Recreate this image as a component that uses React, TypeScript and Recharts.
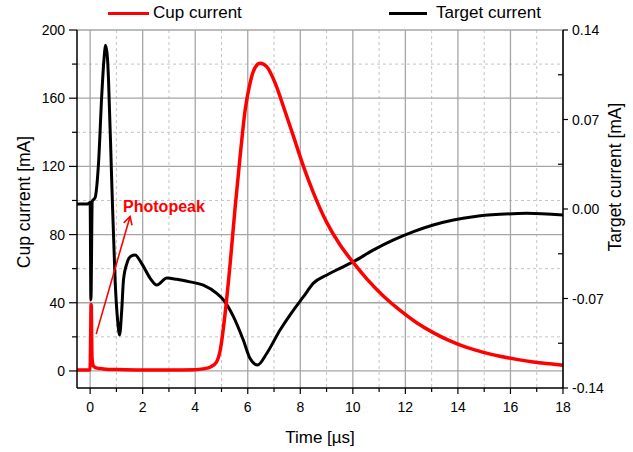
import { LineChart, Line, XAxis, YAxis, CartesianGrid, ReferenceLine, Legend } from "recharts"

// cup current [mA] vs time [µs]
const cupTime = [-0.5, -0.1, 0.0, 0.02, 0.04, 0.07, 0.12, 0.2, 0.5, 1, 2, 3, 4, 4.3, 4.6, 4.8, 4.95, 5.14, 5.33, 5.52, 5.71, 5.9, 6.09, 6.28, 6.47, 6.72, 7.04, 7.36, 7.74, 8.12, 8.5, 9.01, 9.51, 10.02, 10.53, 11.16, 11.8, 12.43, 13.06, 13.7, 14.33, 14.97, 15.6, 16.24, 16.87, 17.5, 18]
const cupCurrent = [0.5, 0.5, 0.8, 20, 39, 8, 3, 2, 1.2, 0.8, 0.6, 0.5, 0.7, 1.2, 2.5, 5, 12, 34, 63, 96, 126, 153, 169, 178, 180.5, 178.5, 169, 155, 137.6, 120, 104.5, 87, 74, 63.5, 54, 44, 35.5, 28.3, 22.5, 17.6, 13.8, 10.9, 8.6, 6.8, 5.3, 4.2, 3.4]

// target current [mA] vs time [µs]
const targetTime = [-0.5, -0.1, 0.0, 0.03, 0.08, 0.19, 0.32, 0.44, 0.52, 0.59, 0.66, 0.7, 0.82, 0.95, 1.05, 1.12, 1.2, 1.27, 1.4, 1.55, 1.71, 1.96, 2.28, 2.54, 2.92, 3.3, 3.8, 4.31, 4.82, 5.07, 5.45, 5.83, 6.09, 6.37, 6.72, 7.23, 7.74, 8.12, 8.5, 9.01, 9.51, 10.02, 10.79, 11.55, 12.31, 13.06, 13.83, 14.59, 15.6, 16.62, 18]
const targetCurrent = [0.004, 0.004, 0.005, -0.071, 0.006, 0.009, 0.036, 0.088, 0.115, 0.128, 0.118, 0.101, 0.023, -0.0555, -0.088, -0.0985, -0.08, -0.0555, -0.0425, -0.037, -0.036, -0.0425, -0.054, -0.0595, -0.054, -0.055, -0.057, -0.0595, -0.066, -0.071, -0.084, -0.1025, -0.117, -0.122, -0.113, -0.0946, -0.079, -0.0686, -0.058, -0.0516, -0.0464, -0.0412, -0.032, -0.0242, -0.0177, -0.0125, -0.0086, -0.006, -0.0042, -0.0034, -0.0047]

// axes
const timeTicks = [0, 1, 2, 3, 4, 5, 6, 7, 8, 9, 10, 11, 12, 13, 14, 15, 16, 17, 18]
const cupTicks = [0, 20, 40, 60, 80, 100, 120, 140, 160, 180, 200]
const targetTicks = [-0.14, -0.105, -0.07, -0.035, 0, 0.035, 0.07, 0.105, 0.14]
const majorTime = [0, 2, 4, 6, 8, 10, 12, 14, 16, 18]
const minorTime = [1, 3, 5, 7, 9, 11, 13, 15, 17]
const majorCup = [0, 40, 80, 120, 160, 200]
const minorCup = [20, 60, 100, 140, 180]

// "Photopeak" arrow: from tail to tip (time, cup current)
const arrowTime = [0.23, 1.52]
const arrowCup = [21.6, 90.6]

const cupData = cupTime.map((t, i) => ({ t, cup: cupCurrent[i] }))
const targetData = targetTime.map((t, i) => ({ t, target: targetCurrent[i] }))

const FONT = "'Liberation Sans', Arial, sans-serif"

function LeftTick(props: any) {
  const { x, y, payload } = props
  const v = payload.value
  const major = v % 40 === 0
  return (
    <g>
      <line x1={x - (major ? 8 : 5)} x2={x} y1={y} y2={y} stroke="#000" strokeWidth={1.2} />
      {major && (
        <text x={x - 12} y={y} textAnchor="end" dominantBaseline="central" fontSize={14} fontFamily={FONT} fill="#000">
          {v}
        </text>
      )}
    </g>
  )
}

function RightTick(props: any) {
  const { x, y, payload } = props
  const v = payload.value
  const major = Math.round(Math.abs(v) * 1000) % 70 === 0
  return (
    <g>
      <line x1={major ? x : x - 5} x2={major ? x + 5 : x} y1={y} y2={y} stroke="#000" strokeWidth={1.2} />
      {major && (
        <text x={x + 9} y={y} textAnchor="start" dominantBaseline="central" fontSize={14} fontFamily={FONT} fill="#000">
          {v.toFixed(2)}
        </text>
      )}
    </g>
  )
}

function BottomTick(props: any) {
  const { x, y, payload } = props
  const v = payload.value
  const major = v % 2 === 0
  return (
    <g>
      <line x1={x} x2={x} y1={y} y2={y + (major ? 6 : 4)} stroke="#000" strokeWidth={1.2} />
      {major && (
        <text x={x} y={y + 19} textAnchor="middle" dominantBaseline="central" fontSize={14} fontFamily={FONT} fill="#000">
          {v}
        </text>
      )}
    </g>
  )
}

function TopTick(props: any) {
  const { x, y } = props
  return <line x1={x} x2={x} y1={y} y2={y + 5} stroke="#000" strokeWidth={1.2} />
}

function PhotopeakArrow(props: any) {
  const { x1, y1, x2, y2 } = props
  const ang = Math.atan2(y2 - y1, x2 - x1)
  const len = 9
  const spread = 0.5
  const p1 = `${x2 - len * Math.cos(ang - spread)},${y2 - len * Math.sin(ang - spread)}`
  const p2 = `${x2 - len * Math.cos(ang + spread)},${y2 - len * Math.sin(ang + spread)}`
  return (
    <g>
      <line x1={x1} y1={y1} x2={x2} y2={y2} stroke="#ff0000" strokeWidth={1.6} />
      <polyline points={`${p1} ${x2},${y2} ${p2}`} fill="none" stroke="#ff0000" strokeWidth={1.6} />
      <text x={x2 - 7} y={y2 - 10} dominantBaseline="central" fontSize={16} fontWeight="bold" fontFamily={FONT} fill="#ff0000">
        Photopeak
      </text>
    </g>
  )
}

function TopLegend() {
  return (
    <div style={{ position: "relative", width: 633, height: 30, fontFamily: FONT, fontSize: 17, color: "#000" }}>
      <div style={{ position: "absolute", left: 108, top: 12, width: 41, height: 3, background: "#ff0000" }} />
      <span style={{ position: "absolute", left: 153, top: 3, lineHeight: "20px", whiteSpace: "nowrap" }}>Cup current</span>
      <div style={{ position: "absolute", left: 389, top: 12, width: 38, height: 3, background: "#000" }} />
      <span style={{ position: "absolute", left: 436, top: 3, lineHeight: "20px", whiteSpace: "nowrap" }}>Target current</span>
    </div>
  )
}

export default function App() {
  return (
    <div style={{ width: 633, height: 452, background: "#fff" }}>
      <style>{"body{margin:0}"}</style>
      <LineChart width={633} height={452} margin={{ top: 0, right: 0, bottom: 0, left: 0 }}>
        <Legend verticalAlign="top" content={<TopLegend />} wrapperStyle={{ left: 0, top: 0, width: 633, height: 30 }} />
        <CartesianGrid xAxisId="main" yAxisId="left" verticalValues={minorTime} horizontalValues={minorCup} stroke="#c4c4c4" strokeDasharray="3 3" />
        <CartesianGrid xAxisId="main" yAxisId="left" verticalValues={majorTime} horizontalValues={majorCup} stroke="#a6a6a6" strokeWidth={1.3} />
        <XAxis
          xAxisId="main"
          type="number"
          dataKey="t"
          domain={[-0.5, 18]}
          ticks={timeTicks}
          allowDataOverflow
          height={64}
          tickSize={0}
          tickMargin={0}
          tickLine={false}
          tick={<BottomTick />}
          interval={0}
          axisLine={{ stroke: "#000", strokeWidth: 1.5 }}
          label={(p: any) => (
            <text x={p.viewBox.x + p.viewBox.width / 2} y={p.viewBox.y + 49} textAnchor="middle" dominantBaseline="central" fontSize={17} fontFamily={FONT} fill="#000">
              Time [µs]
            </text>
          )}
        />
        <XAxis
          xAxisId="top"
          orientation="top"
          type="number"
          dataKey="t"
          domain={[-0.5, 18]}
          ticks={timeTicks}
          allowDataOverflow
          height={0}
          tickSize={0}
          tickMargin={0}
          tickLine={false}
          tick={<TopTick />}
          interval={0}
          axisLine={{ stroke: "#000", strokeWidth: 1.5 }}
        />
        <YAxis
          yAxisId="left"
          domain={[-10, 200]}
          ticks={cupTicks}
          allowDataOverflow
          width={77}
          tickSize={0}
          tickMargin={0}
          tickLine={false}
          tick={<LeftTick />}
          interval={0}
          axisLine={{ stroke: "#000", strokeWidth: 1.5 }}
          label={(p: any) => {
            const cx = p.viewBox.x + 23.5
            const cy = p.viewBox.y + p.viewBox.height / 2 - 7
            return (
              <text x={cx} y={cy} transform={`rotate(-90 ${cx} ${cy})`} textAnchor="middle" dominantBaseline="central" fontSize={17.5} fontFamily={FONT} fill="#000">
                Cup current [mA]
              </text>
            )
          }}
        />
        <YAxis
          yAxisId="right"
          orientation="right"
          domain={[-0.14, 0.14]}
          ticks={targetTicks}
          allowDataOverflow
          width={70}
          tickSize={0}
          tickMargin={0}
          tickLine={false}
          tick={<RightTick />}
          interval={0}
          axisLine={{ stroke: "#000", strokeWidth: 1.5 }}
          label={(p: any) => {
            const cx = p.viewBox.x + 52
            const cy = p.viewBox.y + p.viewBox.height / 2 - 32
            return (
              <text x={cx} y={cy} transform={`rotate(-90 ${cx} ${cy})`} textAnchor="middle" dominantBaseline="central" fontSize={17.5} fontFamily={FONT} fill="#000">
                Target current [mA]
              </text>
            )
          }}
        />
        <Line
          xAxisId="main"
          yAxisId="right"
          data={targetData}
          dataKey="target"
          name="Target current"
          type="monotone"
          stroke="#000"
          strokeWidth={3}
          dot={false}
          isAnimationActive={false}
        />
        <Line
          xAxisId="main"
          yAxisId="left"
          data={cupData}
          dataKey="cup"
          name="Cup current"
          type="monotone"
          stroke="#ff0000"
          strokeWidth={3.5}
          dot={false}
          isAnimationActive={false}
        />
        <ReferenceLine
          xAxisId="main"
          yAxisId="left"
          segment={[
            { x: arrowTime[0], y: arrowCup[0] },
            { x: arrowTime[1], y: arrowCup[1] },
          ]}
          shape={PhotopeakArrow}
        />
      </LineChart>
    </div>
  )
}
